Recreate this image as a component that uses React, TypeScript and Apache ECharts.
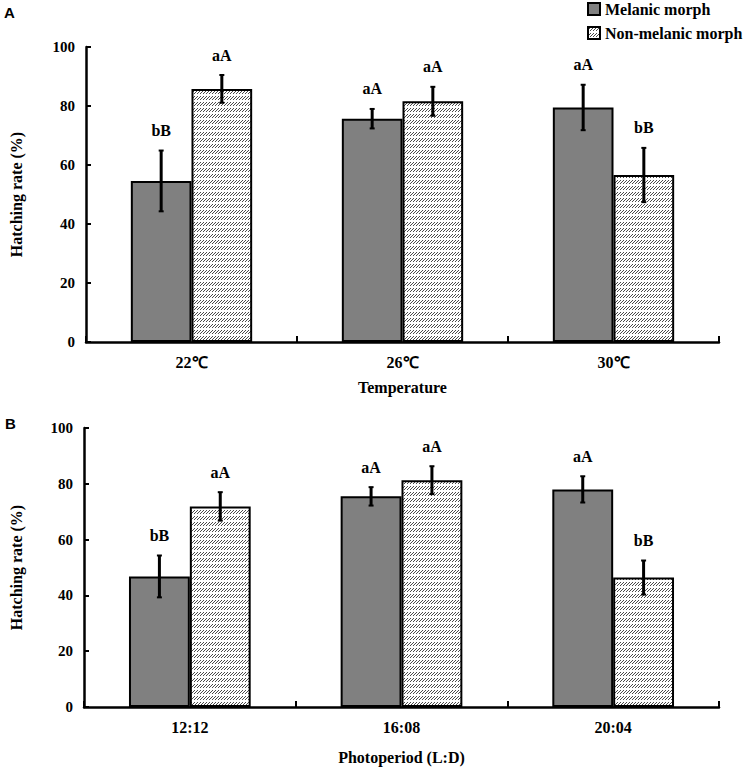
import React, { useEffect, useRef } from "react";
import * as echarts from "echarts";

const tempCategories = ["22\u2103", "26\u2103", "30\u2103"];
const tempMelanic = [54.6, 75.7, 79.5];
const tempMelanicErr = [10.3, 3.3, 7.7];
const tempNonMelanic = [85.8, 81.6, 56.6];
const tempNonMelanicErr = [4.7, 4.9, 9.2];
const tempMelanicLabels = ["bB", "aA", "aA"];
const tempNonMelanicLabels = ["aA", "aA", "bB"];

const photoCategories = ["12:12", "16:08", "20:04"];
const photoMelanic = [46.8, 75.5, 78.0];
const photoMelanicErr = [7.5, 3.3, 4.7];
const photoNonMelanic = [71.9, 81.3, 46.4];
const photoNonMelanicErr = [5.1, 5.0, 6.1];
const photoMelanicLabels = ["bB", "aA", "aA"];
const photoNonMelanicLabels = ["aA", "aA", "bB"];

const yTicks = { min: 0, max: 100, interval: 20 };

const SERIF = "'Liberation Serif', 'Times New Roman', serif";
const SANS = "'Liberation Sans', Arial, sans-serif";
const GAP = 0.425;

function makeHatch(): HTMLCanvasElement {
  const c = document.createElement("canvas");
  c.width = 6;
  c.height = 6;
  const ctx = c.getContext("2d")!;
  ctx.fillStyle = "#ffffff";
  ctx.fillRect(0, 0, 6, 6);
  ctx.fillStyle = "#4a4a4a";
  for (let y = 0; y < 4; y++) {
    for (let x = 0; x < 6; x++) {
      if ((x + y) % 3 === 2) ctx.fillRect(x, y, 1, 1);
    }
  }
  return c;
}

function errSeries(
  xAxisIndex: number,
  values: number[],
  errs: number[],
  labels: string[],
  side: number
) {
  return {
    type: "custom",
    xAxisIndex,
    yAxisIndex: xAxisIndex,
    z: 10,
    silent: true,
    data: values.map((v, i) => [i, v, errs[i]]),
    renderItem: (params: any, api: any) => {
      const ci = api.value(0);
      const v = api.value(1);
      const e = api.value(2);
      const band = api.size([1, 0])[0];
      const bw = (band * (1 - GAP)) / 2;
      const top = api.coord([ci, v + e]);
      const bot = api.coord([ci, v - e]);
      const x = top[0] + (side * bw) / 2;
      const cap = 2.5;
      const ls = { stroke: "#000", lineWidth: 3 };
      return {
        type: "group",
        children: [
          { type: "line", shape: { x1: x, y1: top[1], x2: x, y2: bot[1] }, style: ls },
          { type: "line", shape: { x1: x - cap, y1: top[1], x2: x + cap, y2: top[1] }, style: { stroke: "#000", lineWidth: 2 } },
          { type: "line", shape: { x1: x - cap, y1: bot[1], x2: x + cap, y2: bot[1] }, style: { stroke: "#000", lineWidth: 2 } },
          {
            type: "text",
            x,
            y: top[1] - 20,
            style: {
              text: labels[params.dataIndex],
              textAlign: "center",
              textVerticalAlign: "middle",
              font: `bold 16px ${SERIF}`,
              fill: "#000",
            },
          },
        ],
      };
    },
  };
}

export default function App() {
  const ref = useRef<HTMLDivElement>(null);
  useEffect(() => {
    document.body.style.margin = "0";
    const chart = echarts.init(ref.current!, null, { renderer: "svg" });
    const hatch = makeHatch();
    const hatchColor: any = { image: hatch, repeat: "repeat" };

    const xAxisBase = (data: string[], name: string, gridIndex: number, nameGap: number) => ({
      type: "category",
      gridIndex,
      data,
      name,
      nameLocation: "middle",
      nameGap,
      nameTextStyle: { fontFamily: SERIF, fontWeight: "bold", fontSize: 16, color: "#000" },
      axisLine: { lineStyle: { color: "#000", width: 2.5 } },
      axisTick: { show: true, inside: true, length: 6, lineStyle: { color: "#000", width: 2 } },
      axisLabel: { fontFamily: SERIF, fontWeight: "bold", fontSize: 16, color: "#000", margin: 12 },
    });
    const yAxisBase = (gridIndex: number, nameGap: number) => ({
      type: "value",
      gridIndex,
      min: yTicks.min,
      max: yTicks.max,
      interval: yTicks.interval,
      name: "Hatching rate (%)",
      nameLocation: "middle",
      nameGap,
      nameTextStyle: { fontFamily: SERIF, fontWeight: "bold", fontSize: 16, color: "#000" },
      axisLine: { show: true, lineStyle: { color: "#000", width: 2.5 } },
      axisTick: { show: true, inside: true, length: 5, lineStyle: { color: "#000", width: 2 } },
      axisLabel: { fontFamily: SERIF, fontWeight: "bold", fontSize: 15, color: "#000", margin: 11 },
      splitLine: { show: false },
    });

    const barStyleM = { color: "#808080", borderColor: "#000", borderWidth: 2 };
    const barStyleN = { color: hatchColor, borderColor: "#000", borderWidth: 2 };

    chart.setOption({
      animation: false,
      backgroundColor: "#fff",
      legend: {
        data: ["Melanic morph", "Non-melanic morph"],
        orient: "vertical",
        left: 587,
        top: 1,
        padding: 0,
        icon: "rect",
        itemWidth: 12,
        itemHeight: 12,
        itemGap: 8,
        textStyle: { fontFamily: SERIF, fontWeight: "bold", fontSize: 16, color: "#000" },
      },
      graphic: [
        { type: "text", left: 4, top: 5, style: { text: "A", font: `bold 15px ${SANS}`, fill: "#000" } },
        { type: "text", left: 5, top: 416, style: { text: "B", font: `bold 15px ${SANS}`, fill: "#000" } },
      ],
      grid: [
        { left: 76, top: 47, width: 643, height: 295 },
        { left: 79, top: 428, width: 640, height: 279 },
      ],
      xAxis: [
        xAxisBase(tempCategories, "Temperature", 0, 37),
        xAxisBase(photoCategories, "Photoperiod (L:D)", 1, 42),
      ],
      yAxis: [yAxisBase(0, 62), yAxisBase(1, 60)],
      series: [
        { name: "Melanic morph", type: "bar", xAxisIndex: 0, yAxisIndex: 0, data: tempMelanic, barGap: "0%", barCategoryGap: "42.5%", itemStyle: barStyleM },
        { name: "Non-melanic morph", type: "bar", xAxisIndex: 0, yAxisIndex: 0, data: tempNonMelanic, barGap: "0%", barCategoryGap: "42.5%", itemStyle: barStyleN },
        { name: "Melanic morph", type: "bar", xAxisIndex: 1, yAxisIndex: 1, data: photoMelanic, barGap: "0%", barCategoryGap: "42.5%", itemStyle: barStyleM },
        { name: "Non-melanic morph", type: "bar", xAxisIndex: 1, yAxisIndex: 1, data: photoNonMelanic, barGap: "0%", barCategoryGap: "42.5%", itemStyle: barStyleN },
        errSeries(0, tempMelanic, tempMelanicErr, tempMelanicLabels, -1),
        errSeries(0, tempNonMelanic, tempNonMelanicErr, tempNonMelanicLabels, 1),
        errSeries(1, photoMelanic, photoMelanicErr, photoMelanicLabels, -1),
        errSeries(1, photoNonMelanic, photoNonMelanicErr, photoNonMelanicLabels, 1),
      ],
    });
    return () => chart.dispose();
  }, []);
  return <div ref={ref} style={{ width: 743, height: 768 }} />;
}
